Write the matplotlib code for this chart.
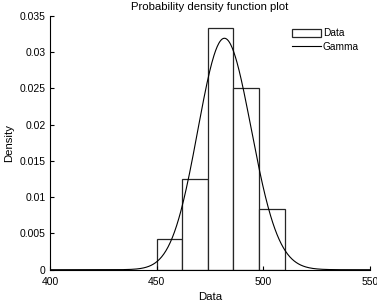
import math
import numpy as np
import matplotlib
matplotlib.use("Agg")
import matplotlib.pyplot as plt

plt.rcParams['font.family'] = ['Liberation Sans', 'DejaVu Sans']

# histogram: bin edges and counts (normalised to density)
bin_edges = [450, 462, 474, 486, 498, 510]
bin_counts = [1, 3, 8, 6, 2]

# fitted gamma parameters (shape, scale)
gamma_shape = 1487.0
gamma_scale = 0.3242

xticks = [400, 450, 500, 550]
yticks = [0, 0.005, 0.01, 0.015, 0.02, 0.025, 0.03, 0.035]
ytick_labels = ['0', '0.005', '0.01', '0.015', '0.02', '0.025', '0.03', '0.035']


def gamma_pdf(x, k, theta):
    x = np.asarray(x, dtype=float)
    logp = (k - 1) * np.log(x) - x / theta - math.lgamma(k) - k * math.log(theta)
    return np.exp(logp)


fig = plt.figure(figsize=(3.77, 3.06), dpi=100)
ax = fig.add_axes([0.1326, 0.1186, 0.8488, 0.8294])

n_total = sum(bin_counts)
widths = np.diff(bin_edges)
dens = np.array(bin_counts) / (n_total * widths)
bars = ax.bar(bin_edges[:-1], dens, width=widths, align='edge', facecolor='white',
              edgecolor='#262626', linewidth=0.9, label='Data')

xs = np.linspace(400, 550, 600)
line, = ax.plot(xs, gamma_pdf(xs, gamma_shape, gamma_scale), color='black',
                linewidth=0.8, label='Gamma')

ax.set_xlim(400, 550)
ax.set_ylim(0, 0.035)
ax.set_xticks(xticks)
ax.set_yticks(yticks)
ax.set_yticklabels(ytick_labels)
ax.tick_params(direction='in', length=3, labelsize=7.5, width=0.8, pad=3)
ax.tick_params(axis='x', pad=5)
for side in ['top', 'right']:
    ax.spines[side].set_visible(False)
for side in ['left', 'bottom']:
    ax.spines[side].set_linewidth(0.8)

ax.set_title('Probability density function plot', fontsize=8.2, pad=4)
ax.set_xlabel('Data', fontsize=8.2, labelpad=4)
ax.set_ylabel('Density', fontsize=8.2, labelpad=4)

leg = ax.legend([bars, line], ['Data', 'Gamma'], loc='upper right', frameon=False,
                fontsize=7.3, handlelength=2.9, handleheight=0.8, handletextpad=0.2,
                labelspacing=0.35, bbox_to_anchor=(0.985, 0.975), borderaxespad=0.2)

fig.savefig('out.png', dpi=100)
